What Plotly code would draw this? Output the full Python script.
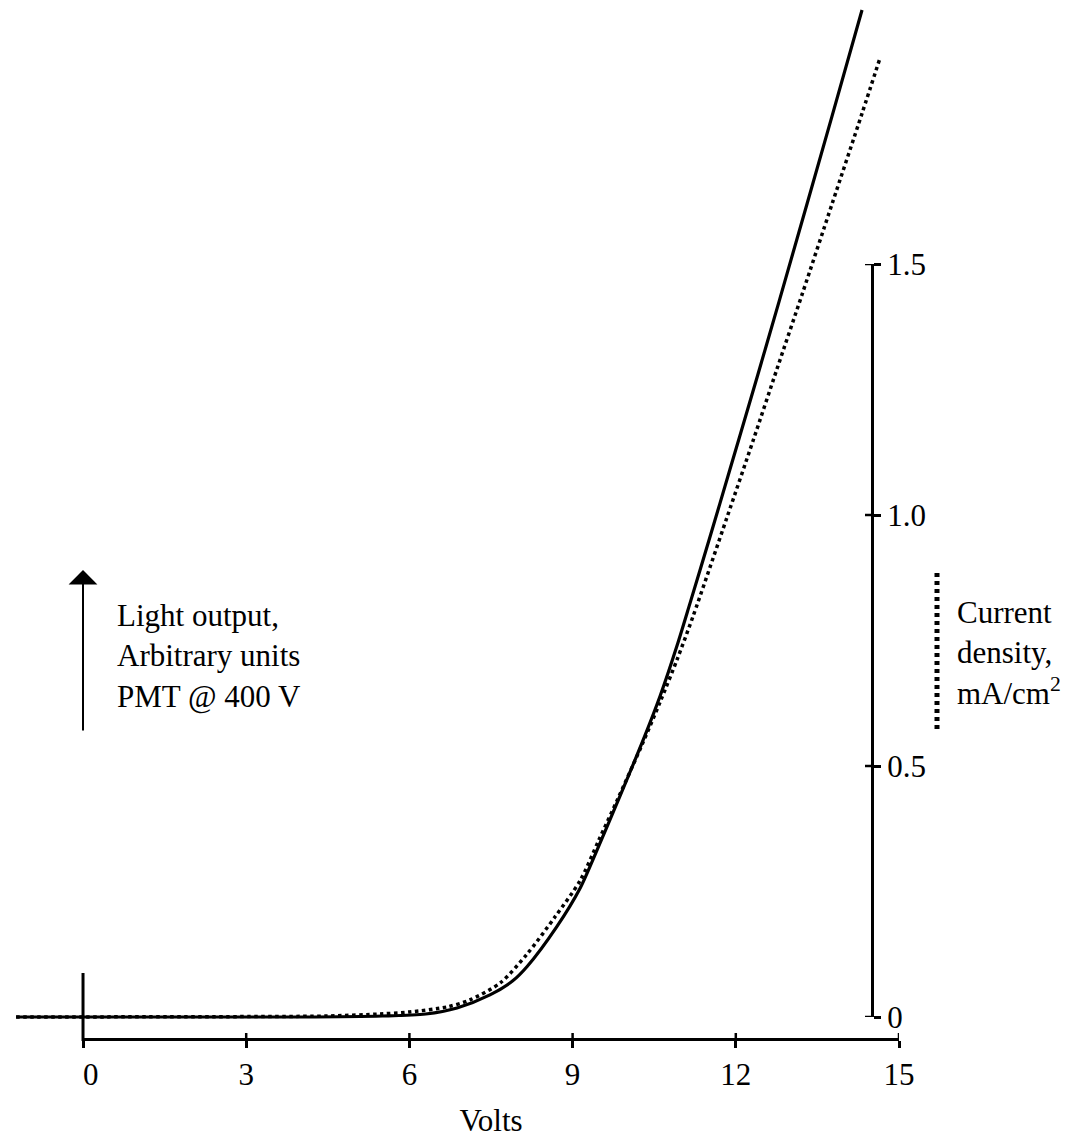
import plotly.graph_objects as go

# ---- data ----
volts_light = [-1.23, 4.0, 5.5, 6.3, 6.875, 7.48, 7.90, 8.16, 8.71, 9.14, 9.38, 9.87, 10.29,
               10.61, 10.92, 11.16, 11.53, 11.89, 12.26, 12.57, 12.81, 13.77, 14.32]
light_output = [0.0, 0.0, 0.002, 0.006, 0.018, 0.044, 0.072, 0.100, 0.180, 0.257, 0.315, 0.440,
                0.550, 0.640, 0.740, 0.825, 0.958, 1.090, 1.226, 1.341, 1.431, 1.795, 2.006]

volts_current = [-1.23, 3.5, 4.5, 5.46, 6.0, 6.69, 7.11, 7.67, 8.16, 8.68, 9.14, 9.48, 9.82,
                 10.29, 10.61, 10.92, 11.21, 11.84, 12.32, 12.76, 13.22, 13.77, 14.32, 14.65]
current_density = [0.0, 0.001, 0.002, 0.006, 0.010, 0.020, 0.034, 0.068, 0.125, 0.200, 0.272,
                   0.352, 0.432, 0.546, 0.628, 0.712, 0.797, 0.996, 1.149, 1.292, 1.440, 1.620,
                   1.800, 1.910]

x_ticks = [0, 3, 6, 9, 12, 15]
x_tick_labels = ["\u20020", "3", "6", "9", "12", "15"]
y_ticks = [0, 0.5, 1.0, 1.5]
y_tick_labels = ["0", "0.5", "1.0", "1.5"]

W, H = 1078, 1143
FONT = "Liberation Serif, Times New Roman, serif"
FS = 31


def px(x):
    return x / W


def py(y):
    return 1 - y / H


fig = go.Figure()

fig.add_trace(go.Scatter(x=volts_light, y=light_output, mode="lines",
                         line=dict(color="black", width=3.2, shape="spline", smoothing=0.8),
                         hoverinfo="skip", showlegend=False))
fig.add_trace(go.Scatter(x=volts_current, y=current_density, mode="lines",
                         line=dict(color="black", width=3.5, dash="3.5px,3.5px",
                                   shape="spline", smoothing=0.8),
                         hoverinfo="skip", showlegend=False))

# dummy traces so the drawn axes exist
fig.add_trace(go.Scatter(x=[0, 15], y=[0, 0], xaxis="x2", yaxis="y", mode="lines",
                         line=dict(width=0), hoverinfo="skip", showlegend=False))
fig.add_trace(go.Scatter(x=[0, 0], y=[0, 1.5], xaxis="x", yaxis="y2", mode="lines",
                         line=dict(width=0), hoverinfo="skip", showlegend=False))

shapes = []
# vertical marker at 0 V
shapes.append(dict(type="line", xref="x", yref="paper", x0=0, x1=0,
                   y0=py(973), y1=py(1041), line=dict(color="black", width=3)))
# upper halves of x ticks (crossing ticks)
for t in x_ticks[1:]:
    shapes.append(dict(type="line", xref="x2", yref="paper", x0=t, x1=t,
                       y0=py(1033), y1=py(1039), line=dict(color="black", width=2.5)))
# left halves of right-axis ticks
for t in y_ticks:
    shapes.append(dict(type="line", xref="paper", yref="y2", x0=px(865), x1=px(872),
                       y0=t, y1=t, line=dict(color="black", width=2.5)))
# dotted legend symbol
shapes.append(dict(type="line", xref="paper", yref="paper", x0=px(937), x1=px(937),
                   y0=py(573), y1=py(732),
                   line=dict(color="black", width=5, dash="4px,4px")))

annotations = [
    dict(xref="paper", yref="paper", x=px(83), y=py(570), ax=0, ay=162,
         text="", showarrow=True, arrowhead=1, arrowsize=2.4, arrowwidth=2,
         arrowcolor="black", standoff=0),
    dict(xref="paper", yref="paper", x=px(115), y=py(656), xanchor="left", yanchor="middle",
         align="left", showarrow=False,
         text="Light output,<br>Arbitrary units<br>PMT @ 400 V",
         font=dict(family=FONT, size=FS, color="black")),
    dict(xref="paper", yref="paper", x=px(955), y=py(653), xanchor="left", yanchor="middle",
         align="left", showarrow=False,
         text="Current<br>density,<br>mA/cm<sup>2</sup>",
         font=dict(family=FONT, size=FS, color="black")),
]

fig.update_layout(
    width=W, height=H,
    margin=dict(l=0, r=0, t=0, b=0, pad=0),
    paper_bgcolor="white", plot_bgcolor="rgba(0,0,0,0)",
    showlegend=False,
    xaxis=dict(domain=[0, 1], range=[-1.526, 18.29], visible=False, fixedrange=True,
               automargin=False),
    yaxis=dict(domain=[0, 1], range=[(1017 - 1143) / 502, 1017 / 502], visible=False,
               fixedrange=True, automargin=False),
    xaxis2=dict(domain=[px(83), px(899)], range=[0, 15], anchor="free", position=py(1039),
                showline=True, linecolor="black", linewidth=3, showgrid=False, zeroline=False,
                ticks="outside", ticklen=7, tickwidth=2.5, tickcolor="black",
                tickvals=x_ticks, ticktext=x_tick_labels,
                tickfont=dict(family=FONT, size=FS, color="black"),
                title=dict(text="Volts", font=dict(family=FONT, size=FS, color="black"),
                           standoff=18),
                fixedrange=True, automargin=False),
    yaxis2=dict(domain=[py(1017), py(264)], range=[0, 1.5], anchor="free", position=px(872),
                side="right",
                showline=True, linecolor="black", linewidth=3, showgrid=False, zeroline=False,
                ticks="outside", ticklen=7, tickwidth=2.5, tickcolor="black",
                tickvals=y_ticks, ticktext=y_tick_labels,
                tickfont=dict(family=FONT, size=FS, color="black"),
                fixedrange=True, automargin=False),
    shapes=shapes,
    annotations=annotations,
)

fig.write_html("out.html")
